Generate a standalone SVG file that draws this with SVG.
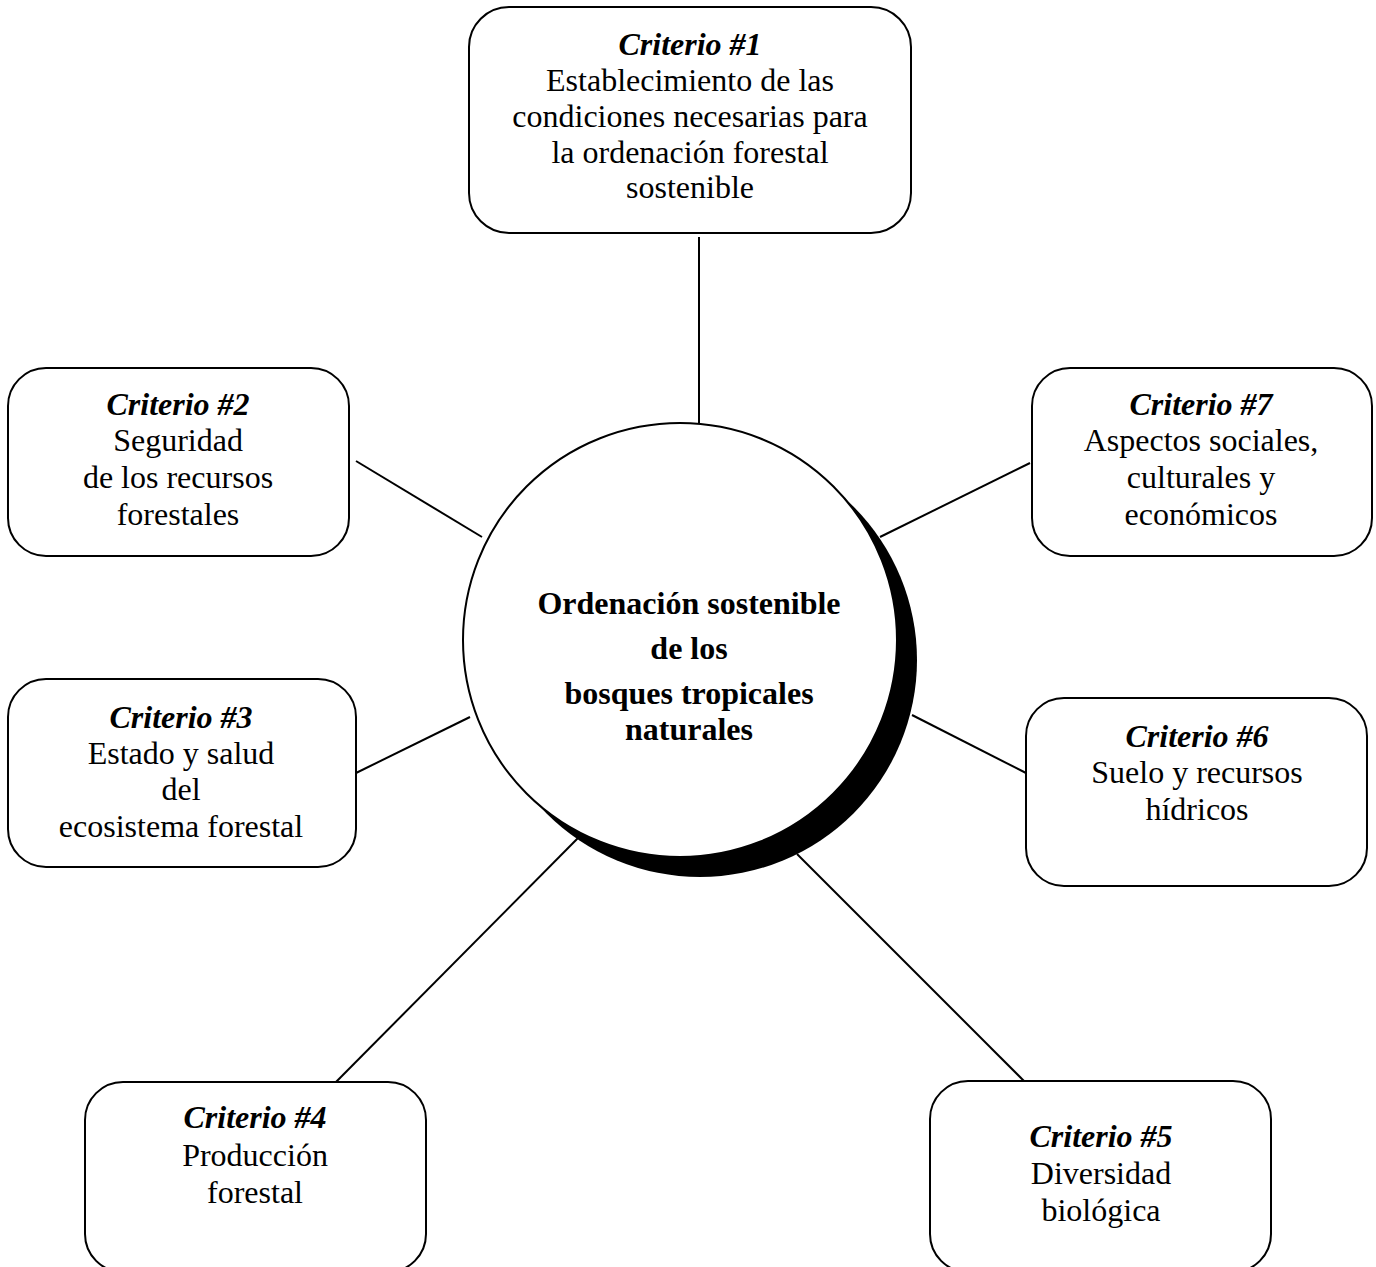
<svg xmlns="http://www.w3.org/2000/svg" width="1376" height="1267" viewBox="0 0 1376 1267">
<style>
.box{fill:#fff;stroke:#000;stroke-width:2}
.t{font-family:"Liberation Serif","Times New Roman",serif;font-size:32px;fill:#000;text-anchor:middle}
.h{font-weight:bold;font-style:italic}
.c{font-weight:bold}
.conn line{stroke:#000;stroke-width:2}
</style>
<rect width="1376" height="1267" fill="#fff"/>
<g id="connectors" class="conn">
<line x1="699" y1="237" x2="699" y2="429"/>
<line x1="356" y1="461" x2="482" y2="537"/>
<line x1="1030" y1="463" x2="880" y2="537"/>
<line x1="356" y1="773" x2="470" y2="717"/>
<line x1="912" y1="715" x2="1026" y2="773"/>
<line x1="335" y1="1083" x2="578" y2="838"/>
<line x1="1024" y1="1081" x2="797" y2="854"/>
</g>
<g id="center">
<circle cx="700" cy="660" r="217" fill="#000"/>
<circle cx="680" cy="640" r="217" fill="#fff" stroke="#000" stroke-width="2"/>
<text class="t c" x="689" y="614">Ordenación sostenible</text>
<text class="t c" x="689" y="659">de los</text>
<text class="t c" x="689" y="704">bosques tropicales</text>
<text class="t c" x="689" y="740">naturales</text>
</g>
<g id="c1">
<rect class="box" x="469" y="7" width="442" height="226" rx="40"/>
<text class="t h" x="690" y="55">Criterio #1</text>
<text class="t" x="690" y="91">Establecimiento de las</text>
<text class="t" x="690" y="127">condiciones necesarias para</text>
<text class="t" x="690" y="163">la ordenación forestal</text>
<text class="t" x="690" y="198">sostenible</text>
</g>
<g id="c2">
<rect class="box" x="8" y="368" width="341" height="188" rx="38"/>
<text class="t h" x="178" y="415">Criterio #2</text>
<text class="t" x="178" y="451">Seguridad</text>
<text class="t" x="178" y="488">de los recursos</text>
<text class="t" x="178" y="525">forestales</text>
</g>
<g id="c7">
<rect class="box" x="1032" y="368" width="340" height="188" rx="38"/>
<text class="t h" x="1201" y="415">Criterio #7</text>
<text class="t" x="1201" y="451">Aspectos sociales,</text>
<text class="t" x="1201" y="488">culturales y</text>
<text class="t" x="1201" y="525">económicos</text>
</g>
<g id="c3">
<rect class="box" x="8" y="679" width="348" height="188" rx="38"/>
<text class="t h" x="181" y="728">Criterio #3</text>
<text class="t" x="181" y="764">Estado y salud</text>
<text class="t" x="181" y="800">del</text>
<text class="t" x="181" y="837">ecosistema forestal</text>
</g>
<g id="c6">
<rect class="box" x="1026" y="698" width="341" height="188" rx="38"/>
<text class="t h" x="1197" y="747">Criterio #6</text>
<text class="t" x="1197" y="783">Suelo y recursos</text>
<text class="t" x="1197" y="820">hídricos</text>
</g>
<g id="c4">
<rect class="box" x="85" y="1082" width="341" height="190" rx="38"/>
<text class="t h" x="255" y="1128">Criterio #4</text>
<text class="t" x="255" y="1166">Producción</text>
<text class="t" x="255" y="1203">forestal</text>
</g>
<g id="c5">
<rect class="box" x="930" y="1081" width="341" height="191" rx="38"/>
<text class="t h" x="1101" y="1147">Criterio #5</text>
<text class="t" x="1101" y="1184">Diversidad</text>
<text class="t" x="1101" y="1221">biológica</text>
</g>
</svg>
